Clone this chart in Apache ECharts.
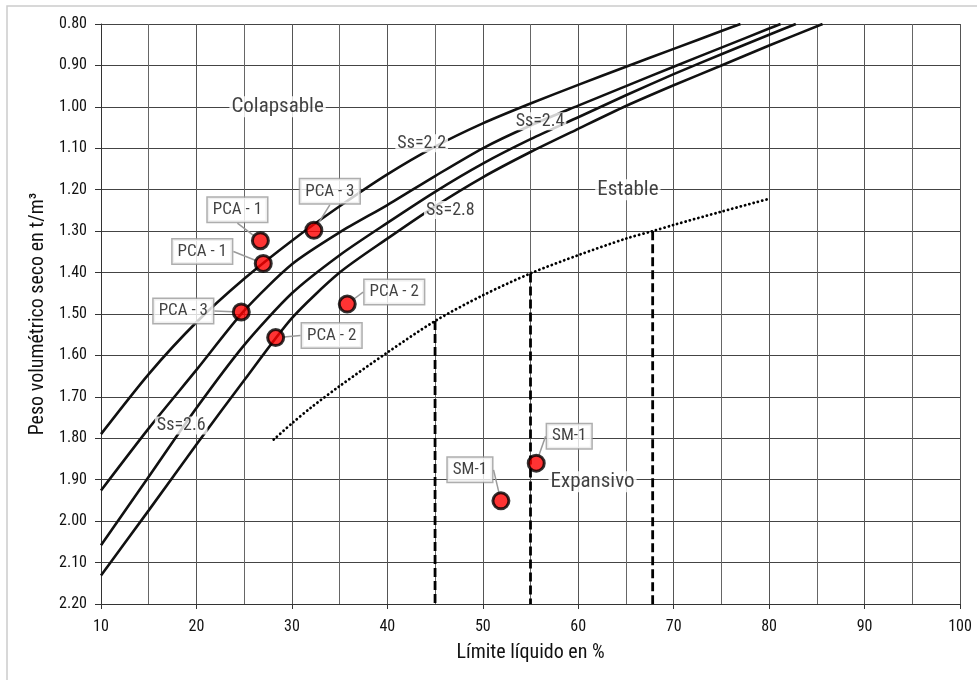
<!DOCTYPE html>
<html>
<head>
<meta charset="utf-8">
<title>Carta de colapsabilidad</title>
<script src="https://cdn.jsdelivr.net/npm/echarts@6/dist/echarts.min.js"></script>
<style>
    html, body { margin: 0; padding: 0; background: #fff; }
    #myChart { width: 977px; height: 680px; }
</style>
</head>
<body>
<div id="myChart"></div>
<script>
// rangos de los ejes
const xMin = 10, xMax = 100, xStep = 10;
const yMin = 0.8, yMax = 2.2, yStep = 0.1;

// curvas Ss [límite líquido, peso volumétrico]
const curveSs22 = [[10, 1.79], [15, 1.645], [20, 1.52], [25, 1.415], [30, 1.323], [35, 1.24], [40, 1.163], [45, 1.096], [50, 1.04], [55, 0.992], [60, 0.947], [65, 0.903], [70, 0.86], [75, 0.817], [77, 0.80]];
const curveSs24 = [[10, 1.926], [15, 1.776], [20, 1.635], [25, 1.492], [30, 1.38], [35, 1.303], [40, 1.237], [45, 1.167], [50, 1.10], [55, 1.045], [60, 0.997], [65, 0.95], [70, 0.903], [75, 0.857], [80, 0.811], [81.2, 0.80]];
const curveSs26 = [[10, 2.058], [15, 1.893], [20, 1.727], [25, 1.575], [30, 1.45], [35, 1.358], [40, 1.28], [45, 1.205], [50, 1.137], [55, 1.078], [60, 1.025], [65, 0.972], [70, 0.921], [75, 0.873], [80, 0.826], [82.8, 0.80]];
const curveSs28 = [[10, 2.131], [15, 1.974], [20, 1.815], [25, 1.66], [30, 1.51], [35, 1.40], [40, 1.318], [45, 1.24], [50, 1.17], [55, 1.109], [60, 1.053], [65, 0.998], [70, 0.948], [75, 0.90], [80, 0.852], [85.6, 0.80]];

// frontera estable / expansivo (punteada)
const limitCurve = [[28.1, 1.803], [30, 1.764], [32, 1.726], [35, 1.674], [40, 1.593], [45, 1.517], [50, 1.455], [55, 1.402], [60, 1.358], [65, 1.318], [67.8, 1.30], [70, 1.285], [75, 1.253], [80, 1.222]];

// verticales discontinuas
const dashX = [45, 55, 67.8];
const dashTop = [1.517, 1.402, 1.30];

// muestras
const sampleNames = ['PCA - 1', 'PCA - 1', 'PCA - 3', 'PCA - 3', 'PCA - 2', 'PCA - 2', 'SM-1', 'SM-1'];
const sampleX = [26.7, 27.0, 24.7, 32.3, 35.8, 28.3, 51.9, 55.6];
const sampleY = [1.323, 1.378, 1.495, 1.298, 1.476, 1.557, 1.951, 1.86];

// textos dentro de la gráfica
const noteNames = ['Colapsable', 'Estable', 'Expansivo', 'Ss=2.2', 'Ss=2.4', 'Ss=2.8', 'Ss=2.6'];
const noteX = [28.5, 65.2, 61.5, 43.6, 56.0, 46.6, 18.4];
const noteY = [1.0, 1.2, 1.905, 1.088, 1.035, 1.249, 1.769];

const FONT = "'Liberation Sans Narrow', 'Roboto Condensed', 'DejaVu Sans Condensed', 'Arial Narrow', Roboto, sans-serif";

// desplazamiento de cada recuadro respecto a su punto (px)
const calloutShift = [[-23, -31], [-61, -12], [-58, -1], [16, -39], [47, -12], [56, -2], [-31, -31], [33, -27]];

var myChart = echarts.init(document.getElementById('myChart'));

function curveSeries(name, data) {
    return {
        name: name,
        type: 'line',
        data: data,
        smooth: 0.25,
        symbol: 'none',
        silent: true,
        z: 3,
        lineStyle: { color: '#111', width: 2.6 }
    };
}

const dashSeries = dashX.map(function (x, i) {
    return {
        type: 'line',
        data: [[x, dashTop[i]], [x, yMax]],
        symbol: 'none',
        silent: true,
        z: 3,
        lineStyle: { color: '#000', width: 2.8, type: [9, 4] }
    };
});

const option = {
    backgroundColor: '#fff',
    animation: false,
    textStyle: { fontFamily: FONT },
    graphic: [{
        type: 'rect',
        shape: { x: 7, y: 6, width: 1000, height: 1000 },
        style: { fill: 'none', stroke: '#ccc', lineWidth: 1.5 },
        z: -10
    }],
    grid: { left: 101, right: 17, top: 24, bottom: 76 },
    xAxis: {
        type: 'value',
        min: xMin,
        max: xMax,
        interval: xStep,
        name: 'Límite líquido en %',
        nameLocation: 'middle',
        nameGap: 39,
        nameTextStyle: { fontFamily: FONT, fontSize: 20, color: '#111' },
        axisLine: { onZero: false, lineStyle: { color: '#333', width: 1 } },
        axisTick: { show: true, length: 5, lineStyle: { color: '#333' } },
        axisLabel: { fontFamily: FONT, fontSize: 16, color: '#111', margin: 15 },
        splitLine: { show: true, lineStyle: { color: '#555', width: 1 } },
        minorTick: { show: false, splitNumber: 2 },
        minorSplitLine: { show: true, lineStyle: { color: '#666', width: 1 } }
    },
    yAxis: {
        type: 'value',
        inverse: true,
        min: yMin,
        max: yMax,
        interval: yStep,
        name: 'Peso volumétrico seco en t/m³',
        nameLocation: 'middle',
        nameGap: 51,
        nameTextStyle: { fontFamily: FONT, fontSize: 20, color: '#111' },
        axisLine: { show: true, onZero: false, lineStyle: { color: '#333', width: 1 } },
        axisTick: { show: true, length: 6, lineStyle: { color: '#333' } },
        axisLabel: {
            fontFamily: FONT, fontSize: 16, color: '#111', margin: 14,
            formatter: function (v) { return v.toFixed(2); }
        },
        splitLine: { show: true, lineStyle: { color: '#444', width: 1 } }
    },
    series: [
        curveSeries('Ss=2.2', curveSs22),
        curveSeries('Ss=2.4', curveSs24),
        curveSeries('Ss=2.6', curveSs26),
        curveSeries('Ss=2.8', curveSs28),
        {
            type: 'line',
            data: limitCurve,
            smooth: 0.3,
            symbol: 'none',
            silent: true,
            z: 3,
            lineStyle: { color: '#000', width: 2.8, type: [0.1, 4.3], cap: 'round' }
        }
    ].concat(dashSeries).concat([
        {
            // textos con fondo blanco
            type: 'scatter',
            symbolSize: 0,
            silent: true,
            z: 5,
            data: noteNames.map(function (n, i) { return { name: n, value: [noteX[i], noteY[i]] }; }),
            label: {
                show: true,
                position: 'inside',
                formatter: '{b}',
                fontFamily: FONT,
                color: '#111',
                backgroundColor: '#fff',
                padding: [0, 2],
                fontSize: 18
            },
            labelLayout: function (p) {
                return p.dataIndex < 3 ? { fontSize: 21 } : {};
            }
        },
        {
            type: 'scatter',
            symbol: 'circle',
            symbolSize: 16,
            z: 6,
            itemStyle: { color: '#ff0000', borderColor: '#000', borderWidth: 3 },
            data: sampleNames.map(function (n, i) { return { name: n, value: [sampleX[i], sampleY[i]] }; }),
            label: {
                show: true,
                position: 'inside',
                formatter: '{b}',
                fontFamily: FONT,
                fontSize: 17,
                color: '#111',
                backgroundColor: '#fff',
                borderColor: '#9a9a9a',
                borderWidth: 1.5,
                padding: [4, 5, 3, 5]
            },
            labelLine: { show: true, lineStyle: { color: '#9a9a9a', width: 1.5 } },
            labelLayout: function (p) {
                const s = calloutShift[p.dataIndex];
                return { dx: s[0], dy: s[1] };
            }
        }
    ])
};

myChart.setOption(option);
</script>
</body>
</html>
